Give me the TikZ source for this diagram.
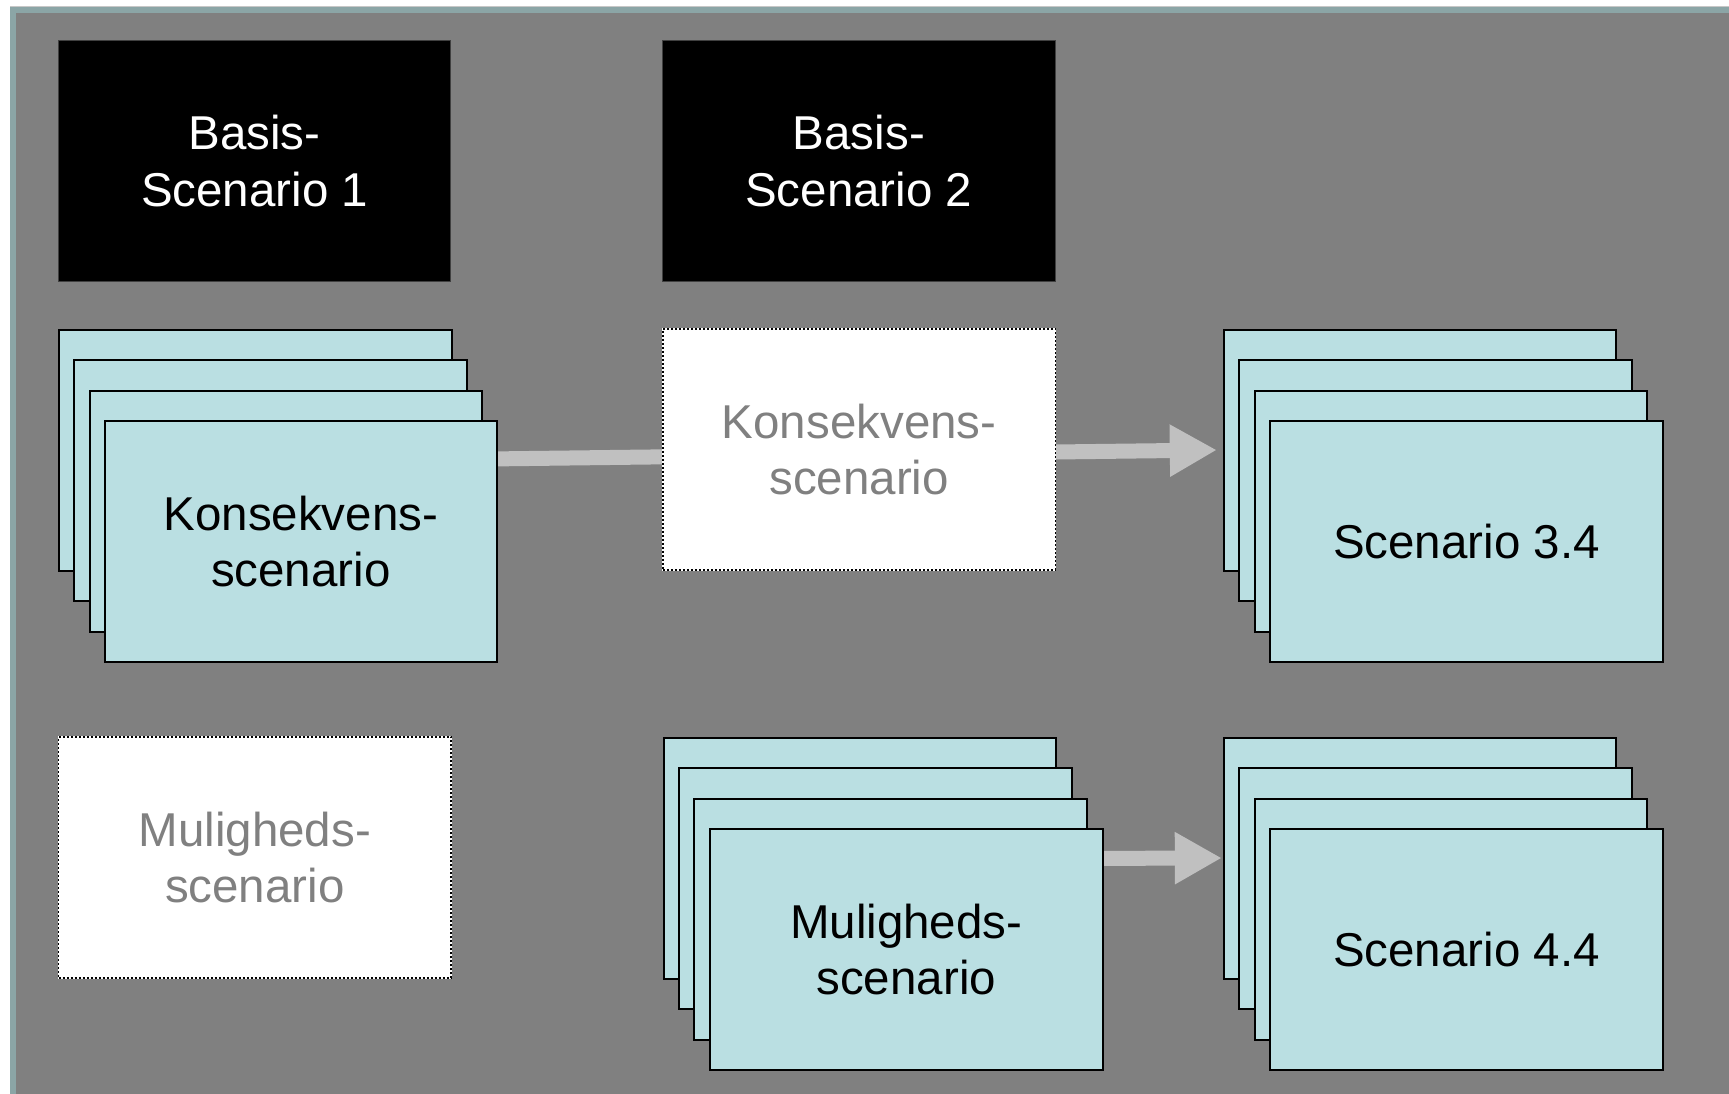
\documentclass[tikz,border=0pt]{standalone}
\usepackage{fontspec}
\setmainfont{Liberation Sans}
\usetikzlibrary{arrows.meta,calc}
\definecolor{cardblue}{RGB}{186,223,226}
\definecolor{framegray}{RGB}{128,128,128}
\definecolor{frameteal}{RGB}{139,165,166}
\definecolor{arrowgray}{RGB}{192,192,192}
\definecolor{textgray}{RGB}{128,128,128}
\pgfdeclarelayer{bg}
\pgfdeclarelayer{arr}
\pgfsetlayers{bg,arr,main}
\tikzset{
  card/.style={draw=black, line width=2pt, fill=cardblue, minimum width=392.5pt,
    minimum height=241pt, anchor=north west, inner sep=0pt, align=center,
    font=\fontsize{47.5}{56.5}\selectfont, text=black},
  basis/.style={card, fill=black, draw=black!75, line width=1pt, text=white},
  ghost/.style={card, fill=white, draw=black, dotted, line width=1.6pt,
    preaction={draw=white, solid}, text=textgray},
  flow/.style={draw=arrowgray, line width=15pt, -{Triangle[length=47pt,width=49pt]}}
}
\begin{document}
\begin{tikzpicture}[x=1pt,y=-1pt]
\useasboundingbox (0,0) rectangle (1729,1094);
\begin{pgfonlayer}{bg}
  \fill[white] (0,0) rectangle (1729,1094);
  \fill[black!22] (10,6) rectangle (1729,1094);
  \fill[frameteal] (10,7.5) rectangle (1729,1094);
  \fill[framegray] (16,13) rectangle (1729,1094);
\end{pgfonlayer}

% basis scenarios
\node[basis] (b1) at (57.8,40.2) {Basis-\\Scenario 1};
\node[basis] (b2) at (662.1,40.2) {Basis-\\Scenario 2};

% stack: Konsekvens-scenario (left)
\node[card] (ka0) at (58.3,328.5) {};
\node[card] (ka1) at (73.4,359.0) {};
\node[card] (ka2) at (88.5,389.5) {};
\node[card] (ka3) at (103.6,420.0) {Konsekvens-\\scenario};

% ghost Konsekvens-scenario (middle)
\node[ghost] (kg) at (662.1,328.0) {Konsekvens-\\scenario};

% stack: Scenario 3.4
\node[card] (sa0) at (1222.8,328.5) {};
\node[card] (sa1) at (1238.2,359.0) {};
\node[card] (sa2) at (1253.6,389.5) {};
\node[card] (sa3) at (1269.1,420.0) {Scenario 3.4};

% ghost Mulighedsscenario (left)
\node[ghost] (mg) at (57.8,736.0) {Muligheds-\\scenario};

% stack: Muligheds-scenario (middle)
\node[card] (mb0) at (662.6,736.5) {};
\node[card] (mb1) at (678.0,767.0) {};
\node[card] (mb2) at (693.4,797.5) {};
\node[card] (mb3) at (709.0,828.0) {Muligheds-\\scenario};

% stack: Scenario 4.4
\node[card] (mc0) at (1222.8,736.5) {};
\node[card] (mc1) at (1238.2,767.0) {};
\node[card] (mc2) at (1253.6,797.5) {};
\node[card] (mc3) at (1269.1,828.0) {Scenario 4.4};

\begin{pgfonlayer}{arr}
  \draw[flow] ($(ka3.north east)!0.16!(ka3.south east)$) -- ($(sa0.west)+(-6,0)$);
  \draw[flow] ($(mb3.north east)!0.125!(mb3.south east)$) -- ($(mc0.west)+(-1,0)$);
\end{pgfonlayer}
\end{tikzpicture}
\end{document}
